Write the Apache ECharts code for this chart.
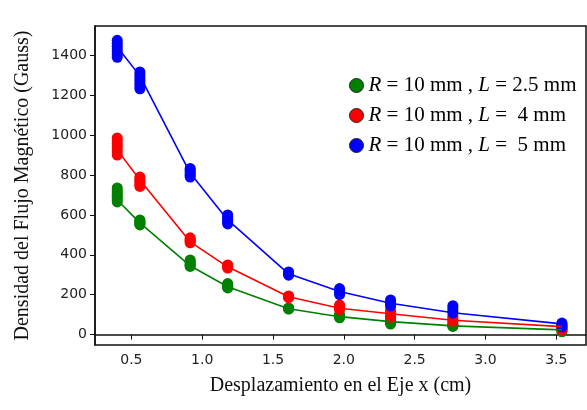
<!DOCTYPE html>
<html>
  <head>
    <meta charset="UTF-8" />
    <title>Flujo magnético</title>
    <style>
      html,
      body {
        margin: 0;
        padding: 0;
        background: #fff;
      }
      #main {
        width: 587px;
        height: 410px;
      }
    </style>
  </head>
  <body>
    <div id="main"></div>
  </body>
  <script src="https://cdn.jsdelivr.net/npm/echarts@6/dist/echarts.min.js"></script>
  <script>
    // desplazamiento en x (cm)
    var desplazamiento = [0.4, 0.56, 0.915, 1.18, 1.61, 1.97, 2.33, 2.77, 3.54];

    // curva (promedio) de cada serie
    var verdeLinea = [675, 560, 345, 240, 130, 90, 65, 44, 24];
    var rojoLinea = [926, 775, 465, 340, 190, 132, 105, 72, 40];
    var azulLinea = [1442, 1297, 810, 575, 305, 216, 157, 110, 54];

    // medidas repetidas en cada posicion
    var verdePuntos = [
      [735, 722, 710, 699, 688, 676, 665],
      [575, 570, 565, 560, 555, 550],
      [374, 367, 360, 353, 347, 342],
      [256, 251, 246, 241, 237, 234],
      [134, 132, 130, 128],
      [100, 95, 89, 84],
      [70, 64, 58, 53],
      [50, 47, 44, 41],
      [30, 24, 19, 14],
    ];
    var rojoPuntos = [
      [986, 972, 958, 944, 930, 915, 900],
      [790, 780, 770, 760, 751, 743],
      [485, 479, 473, 467, 460],
      [349, 344, 339, 334],
      [194, 191, 188, 186],
      [149, 141, 133, 125],
      [122, 112, 102, 92, 82],
      [92, 82, 71, 60],
      [45, 38, 30, 24],
    ];
    var azulPuntos = [
      [1475, 1460, 1446, 1432, 1418, 1404, 1390],
      [1317, 1303, 1289, 1275, 1260, 1246, 1232],
      [833, 824, 815, 806, 798, 790],
      [600, 591, 582, 573, 564, 555],
      [314, 308, 303, 298],
      [231, 221, 211, 201],
      [174, 164, 154, 144],
      [145, 133, 120, 108],
      [58, 52, 45, 38],
    ];

    var nombres = ["L25", "L4", "L5"];
    var etiquetas = {
      L25: "{i|R} = 10 mm , {i|L} = 2.5 mm",
      L4: "{i|R} = 10 mm , {i|L} =  4 mm",
      L5: "{i|R} = 10 mm , {i|L} =  5 mm",
    };
    var colores = ["#008000", "#ff0000", "#0000ff"];
    var xTicks = [0.5, 1.0, 1.5, 2.0, 2.5, 3.0, 3.5];
    var yTicks = [0, 200, 400, 600, 800, 1000, 1200, 1400];

    var serif = "Liberation Serif";
    var sans = "DejaVu Sans";

    function pares(valores) {
      var arr = [];
      for (var i = 0; i < desplazamiento.length; i++) {
        arr.push([desplazamiento[i], valores[i]]);
      }
      return arr;
    }

    function nube(puntos) {
      var arr = [];
      for (var i = 0; i < puntos.length; i++) {
        for (var j = 0; j < puntos[i].length; j++) {
          arr.push([desplazamiento[i], puntos[i][j]]);
        }
      }
      return arr;
    }

    var lineas = [verdeLinea, rojoLinea, azulLinea];
    var puntos = [verdePuntos, rojoPuntos, azulPuntos];
    var series = [];
    for (var k = 0; k < 3; k++) {
      series.push({
        name: nombres[k],
        type: "line",
        data: pares(lineas[k]),
        showSymbol: false,
        color: colores[k],
        lineStyle: { width: 1.6, color: colores[k] },
        silent: true,
      });
      series.push({
        name: nombres[k],
        type: "scatter",
        data: nube(puntos[k]),
        symbol: "circle",
        symbolSize: 11,
        color: colores[k],
        itemStyle: { color: colores[k], opacity: 1 },
        silent: true,
      });
    }

    var myChart = echarts.init(document.getElementById("main"));
    var option = {
      animation: false,
      backgroundColor: "#fff",
      grid: {
        left: 95,
        top: 26,
        right: 1,
        bottom: 65,
        show: true,
        borderColor: "#111",
        borderWidth: 1.5,
      },
      legend: {
        orient: "vertical",
        left: 344,
        top: 70,
        itemGap: 9,
        itemWidth: 14,
        itemHeight: 14,
        icon: "circle",
        data: nombres,
        itemStyle: { borderColor: "#222", borderWidth: 1 },
        formatter: function (name) {
          return etiquetas[name];
        },
        textStyle: {
          fontFamily: serif,
          fontSize: 21,
          color: "#000",
          rich: {
            i: { fontFamily: serif, fontSize: 21, fontStyle: "italic", color: "#000" },
          },
        },
      },
      xAxis: {
        type: "value",
        min: 0.243,
        max: 3.71,
        name: "Desplazamiento en el Eje x (cm)",
        nameLocation: "middle",
        nameGap: 31,
        nameTextStyle: { fontFamily: serif, fontSize: 20, color: "#111" },
        axisLine: { show: true, lineStyle: { color: "#111", width: 1.5 } },
        axisTick: {
          show: true,
          length: 5,
          customValues: xTicks,
          lineStyle: { color: "#111" },
        },
        axisLabel: {
          customValues: xTicks,
          fontFamily: sans,
          fontSize: 14,
          color: "#222",
          margin: 8,
          formatter: function (v) {
            return v.toFixed(1);
          },
        },
        splitLine: { show: false },
      },
      yAxis: {
        type: "value",
        min: -52,
        max: 1547,
        name: "Densidad del Flujo Magnético (Gauss)",
        nameLocation: "middle",
        nameGap: 62,
        nameTextStyle: { fontFamily: serif, fontSize: 20, color: "#111" },
        axisLine: { show: true, lineStyle: { color: "#111", width: 1.5 } },
        axisTick: {
          show: true,
          length: 5,
          customValues: yTicks,
          lineStyle: { color: "#111" },
        },
        axisLabel: {
          customValues: yTicks,
          fontFamily: sans,
          fontSize: 14,
          color: "#222",
          margin: 8,
          formatter: function (v) {
            return String(v);
          },
        },
        splitLine: { show: false },
      },
      series: series,
    };
    myChart.setOption(option);
  </script>
</html>
